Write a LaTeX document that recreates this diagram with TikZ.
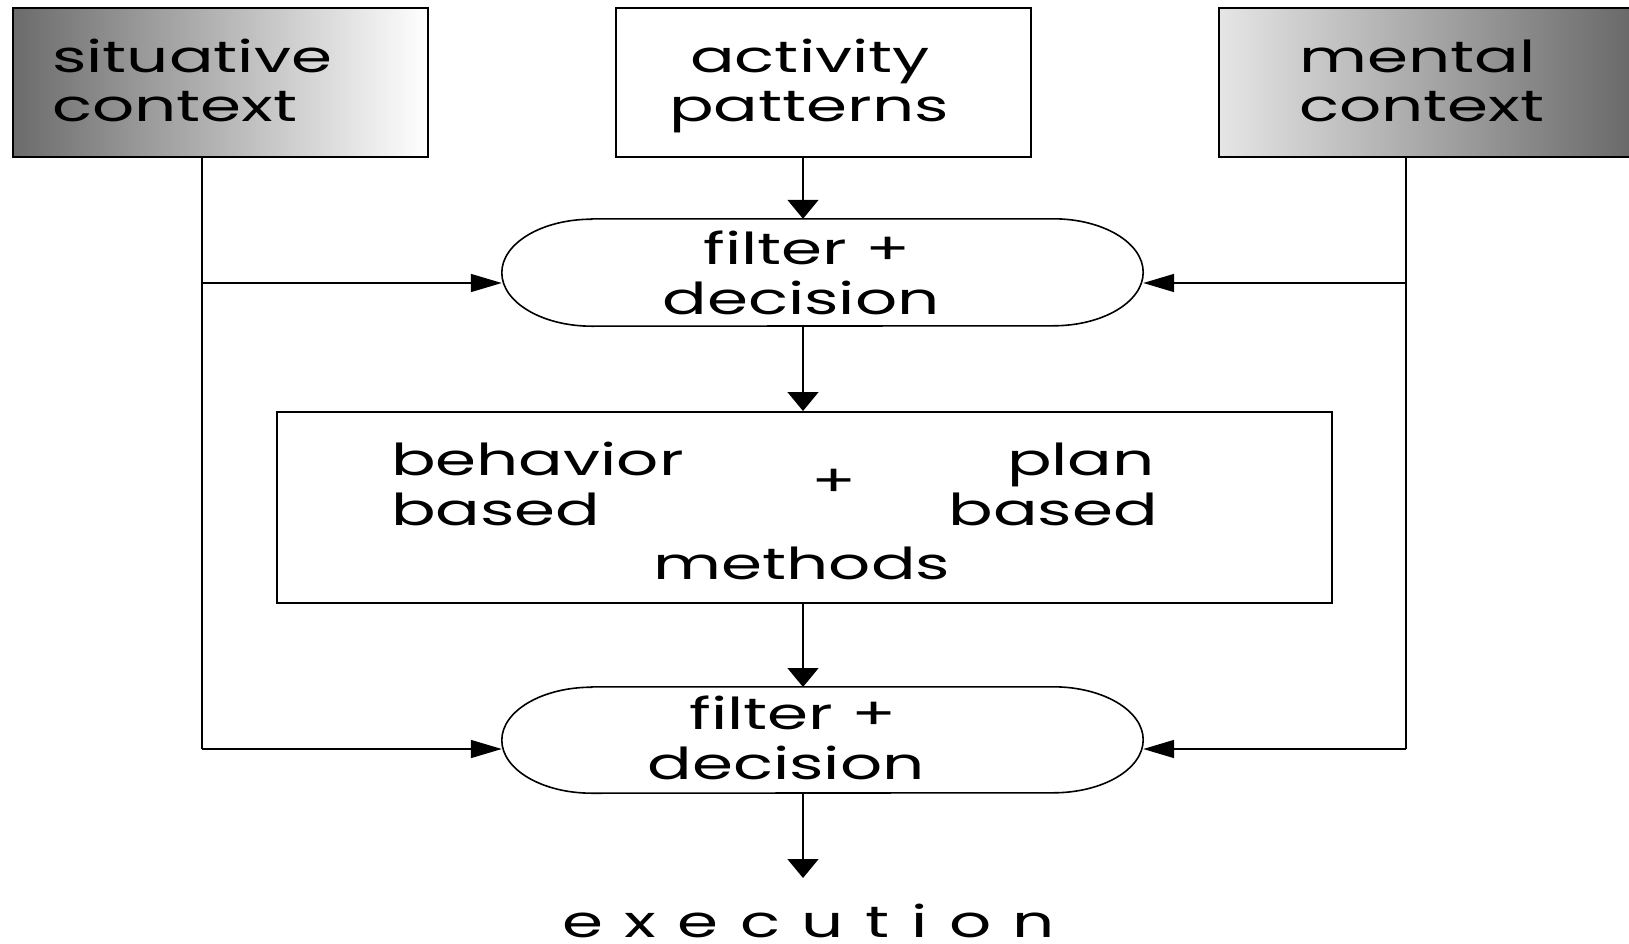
\documentclass[tikz,border=0pt]{standalone}
\usepackage{fontspec}
\setmainfont{Poppins}[FakeStretch=1.5]
\usetikzlibrary{arrows.meta}
\begin{document}
\begin{tikzpicture}[x=1pt,y=-1pt,
  line/.style={line width=1.6pt, black},
  down/.style={line, -{Triangle[length=19pt,width=31pt]}},
  side/.style={line, -{Triangle[length=31pt,width=18pt]}},
  box/.style={line, draw, rectangle, anchor=north west, inner sep=0pt},
  oval/.style={rectangle, draw=none, inner sep=0pt, minimum width=641pt},
  lbl/.style={inner sep=0pt, font=\fontsize{44}{49}\selectfont},
]
\useasboundingbox (0,0) rectangle (1629,944);

% source boxes
\node[box, minimum width=415pt, minimum height=149pt, left color=black!58, right color=white] (sit) at (12,7) {};
\node[box, minimum width=415pt, minimum height=149pt] (act) at (615,7) {};
\node[box, minimum width=440pt, minimum height=149pt, left color=black!10, right color=black!62] (men) at (1218,7) {};

\node[lbl, anchor=base west] (sit1) at (52,73) {situative};
\node[lbl, anchor=base west] (sit2) at (52,122) {context};
\node[lbl, anchor=base] (act1) at (810,73) {activity};
\node[lbl, anchor=base] (act2) at (809,122) {patterns};
\node[lbl, anchor=base west] (men1) at (1299,73) {mental};
\node[lbl, anchor=base west] (men2) at (1299,122) {context};

% filter + decision stages
\node[oval, minimum height=107pt] (f1) at (822.5,272.5) {};
\node[oval, minimum height=106pt] (f2) at (822.5,740) {};
\foreach \f/\r in {f1/53.5,f2/53}{
  \draw[line] ([xshift=90pt]\f.north west) -- ([xshift=-90pt]\f.north east)
    arc[start angle=90, end angle=-90, x radius=90pt, y radius=\r pt]
    -- ([xshift=90pt]\f.south west)
    arc[start angle=270, end angle=90, x radius=90pt, y radius=\r pt] -- cycle;
}
\node[lbl, anchor=base] (f1a) at (807,264) {filter +};
\node[lbl, anchor=base] (f1b) at (801,314) {decision};
\node[lbl, anchor=base] (f2a) at (793,729) {filter +};
\node[lbl, anchor=base] (f2b) at (786,779) {decision};

% methods box
\node[box, minimum width=1055pt, minimum height=191pt] (mid) at (276,411) {};
\node[lbl, anchor=base west] (beh1) at (391,475) {behavior};
\node[lbl, anchor=base west] (beh2) at (391,525) {based};
\node[lbl] (plus) at (834,483) {+};
\node[lbl, anchor=base east] (plan1) at (1155,475) {plan};
\node[lbl, anchor=base east] (plan2) at (1158,525) {based};
\node[lbl, anchor=base] (meth) at (802,579) {methods};

% output
\node[lbl, anchor=base west] (exe) at (562,937) {\addfontfeature{LetterSpace=49}execution};
\coordinate (exetop) at (803,878);

% main chain
\coordinate (c1) at (803,156);
\draw[down] (c1) -- (c1 |- f1.north);
\draw[down] (803,326) -- (803,411);
\draw[down] (803,602) -- (803,687);
\draw[down] (803,793) -- (exetop);

% context feeds
\coordinate (sl0) at (202,156);
\coordinate (sl1) at (202,283);
\coordinate (sl2) at (202,749);
\coordinate (sr0) at (1406,156);
\coordinate (sr1) at (1406,283);
\coordinate (sr2) at (1406,749);
\draw[line] (sl0) -- (sl2);
\draw[line] (sr0) -- (sr2);
\draw[side] (sl1) -- (f1.west |- sl1);
\draw[side] (sl2) -- (f2.west |- sl2);
\draw[side] (sr1) -- (f1.east |- sr1);
\draw[side] (sr2) -- (f2.east |- sr2);
\end{tikzpicture}
\end{document}
